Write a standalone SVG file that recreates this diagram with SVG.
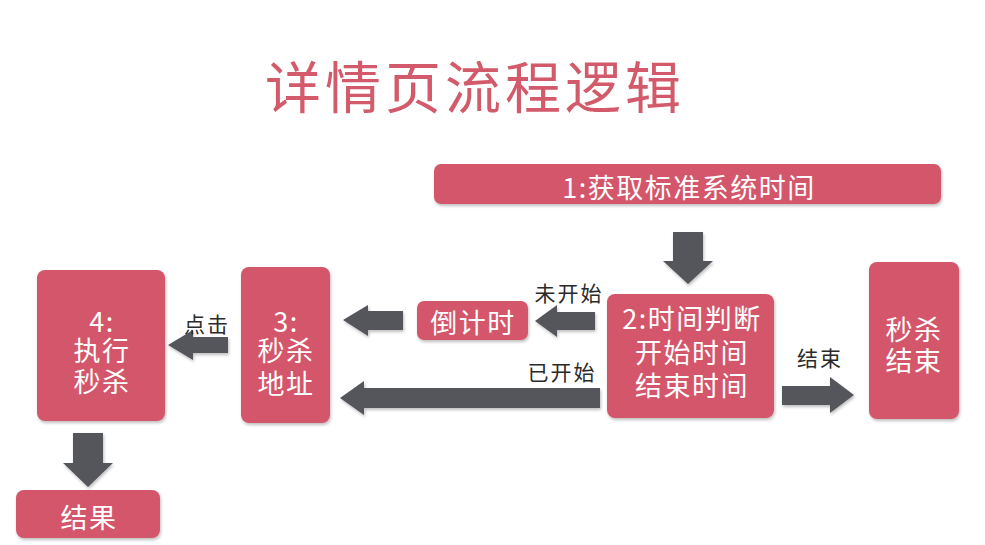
<svg xmlns="http://www.w3.org/2000/svg" width="985" height="545" viewBox="0 0 985 545">
  <defs>
    <filter id="sh" x="-10%" y="-10%" width="130%" height="130%">
      <feDropShadow dx="1" dy="2" stdDeviation="1.5" flood-color="#000" flood-opacity="0.25"/>
    </filter>
    <style>
      .box { fill: #d4566a; filter: url(#sh); }
      .bt { font-family: "Noto Sans CJK SC", "Noto Sans", sans-serif; font-size: 27px; fill: #ffffff; text-anchor: middle; dominant-baseline: central; letter-spacing: 1.5px; }
      .arr { fill: #54565b; filter: url(#sh); }
      .lbl { font-family: "Noto Sans CJK SC", "Noto Sans", sans-serif; font-size: 21px; fill: #2a2a2a; text-anchor: middle; dominant-baseline: central; letter-spacing: 2px; }
      .title { font-family: "Noto Sans CJK SC", "Noto Sans", sans-serif; font-size: 56px; fill: #d25a6a; text-anchor: middle; dominant-baseline: central; letter-spacing: 4px; }
    </style>
  </defs>
  <rect width="985" height="545" fill="#ffffff"/>

  <text class="title" x="475" y="83">详情页流程逻辑</text>

  <g id="connectors">
    <polygon class="arr" points="673,232 703,232 703,261 713,261 688,284 663,261 673,261"/>
    <polygon class="arr" points="595,312 557,312 557,305 535,321 557,337 557,330 595,330"/>
    <polygon class="arr" points="403,311 368,311 368,305 343,320 368,336 368,330 403,330"/>
    <polygon class="arr" points="600,388 364,388 364,381 340,398 364,415 364,408 600,408"/>
    <polygon class="arr" points="782,386 830,386 830,377 854,395 830,413 830,405 782,405"/>
    <polygon class="arr" points="228,337 193,337 193,330 168,345 193,360 193,353 228,353"/>
    <polygon class="arr" points="73,433 103,433 103,463 113,463 88,487 63,463 73,463"/>
    <text class="lbl" x="569" y="292">未开始</text>
    <text class="lbl" x="562" y="371">已开始</text>
    <text class="lbl" x="820" y="357">结束</text>
    <text class="lbl" x="207" y="323">点击</text>
  </g>

  <g id="n1">
    <rect class="box" x="434" y="164" width="507" height="40" rx="7"/>
    <text class="bt" x="689" y="186">1:获取标准系统时间</text>
  </g>
  <g id="n2">
    <rect class="box" x="607" y="294" width="167" height="124" rx="8"/>
    <text class="bt"><tspan x="692" y="317">2:时间判断</tspan><tspan x="692" y="351">开始时间</tspan><tspan x="692" y="384">结束时间</tspan></text>
  </g>
  <g id="n-end">
    <rect class="box" x="869" y="262" width="90" height="157" rx="8"/>
    <text class="bt"><tspan x="914" y="328">秒杀</tspan><tspan x="914" y="359">结束</tspan></text>
  </g>
  <g id="n-countdown">
    <rect class="box" x="417" y="301" width="111" height="39" rx="7"/>
    <text class="bt" x="473" y="321">倒计时</text>
  </g>
  <g id="n3">
    <rect class="box" x="241" y="267" width="89" height="156" rx="8"/>
    <text class="bt"><tspan x="286" y="320">3:</tspan><tspan x="286" y="349">秒杀</tspan><tspan x="286" y="382">地址</tspan></text>
  </g>
  <g id="n4">
    <rect class="box" x="37" y="270" width="128" height="151" rx="8"/>
    <text class="bt"><tspan x="102" y="320">4:</tspan><tspan x="102" y="349">执行</tspan><tspan x="102" y="380">秒杀</tspan></text>
  </g>
  <g id="n-result">
    <rect class="box" x="16" y="490" width="144" height="48" rx="8"/>
    <text class="bt" x="89" y="516">结果</text>
  </g>
</svg>
